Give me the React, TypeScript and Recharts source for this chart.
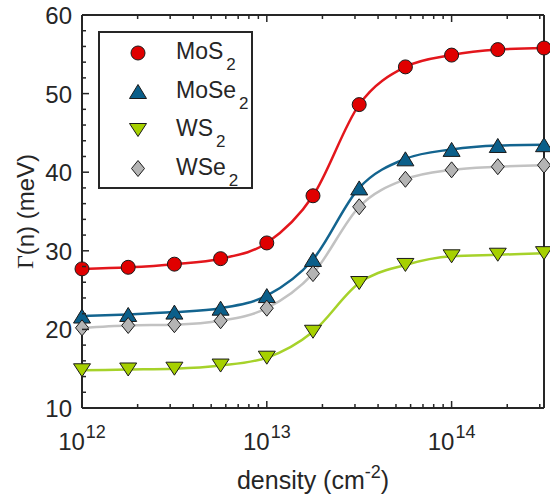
import { LineChart, Line, XAxis, YAxis, Legend, Label } from 'recharts';

// quarter-decade densities (cm^-2)
const density = [1e12, 1.778e12, 3.162e12, 5.623e12, 1e13, 1.778e13, 3.162e13, 5.623e13, 1e14, 1.778e14, 3.162e14];

// broadening Γ(n) in meV
const mos2 = [27.7, 27.9, 28.3, 29.0, 31.0, 37.0, 48.6, 53.4, 54.9, 55.6, 55.8];
const mose2 = [21.7, 21.9, 22.2, 22.7, 24.3, 28.9, 38.0, 41.7, 42.9, 43.4, 43.5];
const ws2 = [14.8, 14.9, 15.0, 15.4, 16.4, 19.7, 25.9, 28.2, 29.3, 29.5, 29.7];
const wse2 = [20.2, 20.5, 20.6, 21.1, 22.7, 27.1, 35.6, 39.1, 40.3, 40.7, 40.9];

const seriesKeys = ['MoS2', 'MoSe2', 'WS2', 'WSe2'];
const seriesBase = ['MoS', 'MoSe', 'WS', 'WSe'];
const seriesShape = ['circle', 'up', 'down', 'diamond'];
const seriesFill = ['#e00000', '#0b5f8a', '#a6d000', '#b4b4b4'];
const seriesLine = ['#e3161c', '#13648f', '#a6d22a', '#c2c2c2'];

const xTicks = [
  1e12, 2e12, 3e12, 4e12, 5e12, 6e12, 7e12, 8e12, 9e12,
  1e13, 2e13, 3e13, 4e13, 5e13, 6e13, 7e13, 8e13, 9e13,
  1e14, 2e14, 3e14,
];
const yTicks = [10, 12, 14, 16, 18, 20, 22, 24, 26, 28, 30, 32, 34, 36, 38, 40, 42, 44, 46, 48, 50, 52, 54, 56, 58, 60];

const data = density.map((d, i) => ({
  density: d,
  MoS2: mos2[i],
  MoSe2: mose2[i],
  WS2: ws2[i],
  WSe2: wse2[i],
}));

const AX = '#262626';
const FONT = '"Liberation Sans", Arial, Helvetica, sans-serif';

function Marker({ shape, cx, cy, fill }: any) {
  const s = { fill, stroke: '#1a1a1a', strokeWidth: 1 };
  if (shape === 'circle') return <circle cx={cx} cy={cy} r={7} {...s} />;
  if (shape === 'up')
    return <polygon points={`${cx},${cy - 7} ${cx + 8.5},${cy + 7} ${cx - 8.5},${cy + 7}`} {...s} />;
  if (shape === 'down')
    return <polygon points={`${cx - 8.5},${cy - 6.5} ${cx + 8.5},${cy - 6.5} ${cx},${cy + 6.5}`} {...s} />;
  return <polygon points={`${cx},${cy - 8} ${cx + 6.5},${cy} ${cx},${cy + 8} ${cx - 6.5},${cy}`} {...s} />;
}

function XTick(props: any) {
  const { x, y, payload, side } = props;
  const lg = Math.log10(payload.value);
  const e = Math.round(lg);
  const major = Math.abs(lg - e) < 1e-6;
  const dir = side === 'top' ? 1 : -1;
  return (
    <g>
      <line x1={x} y1={y} x2={x} y2={y + dir * (major ? 7 : 4)} stroke={AX} strokeWidth={1.5} />
      {major && side === 'bottom' && (
        <text x={x} y={y + 42} textAnchor="middle" fill={AX} fontSize={24} fontFamily={FONT}>
          10<tspan dx={1} dy={-12} fontSize={18}>{e}</tspan>
        </text>
      )}
    </g>
  );
}

function YTick(props: any) {
  const { x, y, payload, side } = props;
  const major = payload.value % 10 === 0;
  const dir = side === 'right' ? -1 : 1;
  return (
    <g>
      <line x1={x} y1={y} x2={x + dir * (major ? 7 : 4)} y2={y} stroke={AX} strokeWidth={1.5} />
      {major && side === 'left' && (
        <text x={x - 10} y={y + 9} textAnchor="end" fill={AX} fontSize={24} fontFamily={FONT}>
          {payload.value}
        </text>
      )}
    </g>
  );
}

function LegendBox() {
  return (
    <svg width={155} height={158} style={{ display: 'block' }}>
      <rect x={1} y={1} width={153} height={156} fill="#fff" stroke={AX} strokeWidth={2} />
      {seriesKeys.map((k, i) => {
        const cy = 22 + i * 38.5;
        return (
          <g key={k}>
            <Marker shape={seriesShape[i]} cx={40} cy={cy} fill={seriesFill[i]} />
            <text x={78} y={cy + 6} fill={AX} fontSize={23} fontFamily={FONT}>
              {seriesBase[i]}
              <tspan dx={3} dy={11} fontSize={17}>2</tspan>
            </text>
          </g>
        );
      })}
    </svg>
  );
}

const axisCommon = {
  interval: 0 as const,
  tickSize: 0,
  tickMargin: 0,
  tickLine: false,
  axisLine: { stroke: AX, strokeWidth: 2 },
};

export default function App() {
  return (
    <div style={{ position: 'absolute', left: 0, top: 0, background: '#fff' }}>
      <LineChart width={550} height={495} data={data} margin={{ top: 14, right: 5, bottom: 86, left: 81 }}>
        <XAxis
          xAxisId="b"
          dataKey="density"
          type="number"
          scale="log"
          domain={[1e12, 3.162e14]}
          ticks={xTicks}
          height={1}
          {...axisCommon}
          tick={<XTick side="bottom" />}
        >
          <Label
            content={({ viewBox }: any) => (
              <text
                x={viewBox.x + viewBox.width / 2}
                y={viewBox.y + 81}
                textAnchor="middle"
                fill={AX}
                fontSize={25}
                fontFamily={FONT}
              >
                density (cm<tspan dy={-11} fontSize={18}>-2</tspan>
                <tspan dy={11}>)</tspan>
              </text>
            )}
          />
        </XAxis>
        <XAxis
          xAxisId="t"
          orientation="top"
          dataKey="density"
          type="number"
          scale="log"
          domain={[1e12, 3.162e14]}
          ticks={xTicks}
          height={1}
          {...axisCommon}
          tick={<XTick side="top" />}
        />
        <YAxis
          yAxisId="l"
          type="number"
          domain={[10, 60]}
          ticks={yTicks}
          width={1}
          {...axisCommon}
          tick={<YTick side="left" />}
        >
          <Label
            content={({ viewBox }: any) => {
              const cx = viewBox.x + viewBox.width - 57;
              const cy = viewBox.y + viewBox.height / 2;
              return (
                <text
                  x={cx}
                  y={cy}
                  transform={`rotate(-90 ${cx} ${cy})`}
                  textAnchor="middle"
                  dominantBaseline="central"
                  fill={AX}
                  fontSize={24}
                  fontFamily={FONT}
                >
                  <tspan fontFamily='"Liberation Serif", "DejaVu Serif", serif'>Γ</tspan>(n) (meV)
                </text>
              );
            }}
          />
        </YAxis>
        <YAxis
          yAxisId="r"
          orientation="right"
          type="number"
          domain={[10, 60]}
          ticks={yTicks}
          width={1}
          {...axisCommon}
          tick={<YTick side="right" />}
        />
        {seriesKeys.map((k, i) => (
          <Line
            key={`c-${k}`}
            xAxisId="b"
            yAxisId="l"
            type="monotone"
            dataKey={k}
            stroke={seriesLine[i]}
            strokeWidth={2.5}
            dot={false}
            activeDot={false}
            legendType="none"
            isAnimationActive={false}
          />
        ))}
        {seriesKeys.map((k, i) => (
          <Line
            key={`m-${k}`}
            xAxisId="b"
            yAxisId="l"
            dataKey={k}
            name={k}
            stroke="none"
            dot={(p: any) => (
              <Marker key={`${k}-${p.index}`} shape={seriesShape[i]} cx={p.cx} cy={p.cy} fill={seriesFill[i]} />
            )}
            activeDot={false}
            isAnimationActive={false}
          />
        ))}
        <Legend
          layout="vertical"
          align="center"
          verticalAlign="middle"
          wrapperStyle={{ left: 98, top: 31, width: 155, height: 158 }}
          content={() => <LegendBox />}
        />
      </LineChart>
    </div>
  );
}
